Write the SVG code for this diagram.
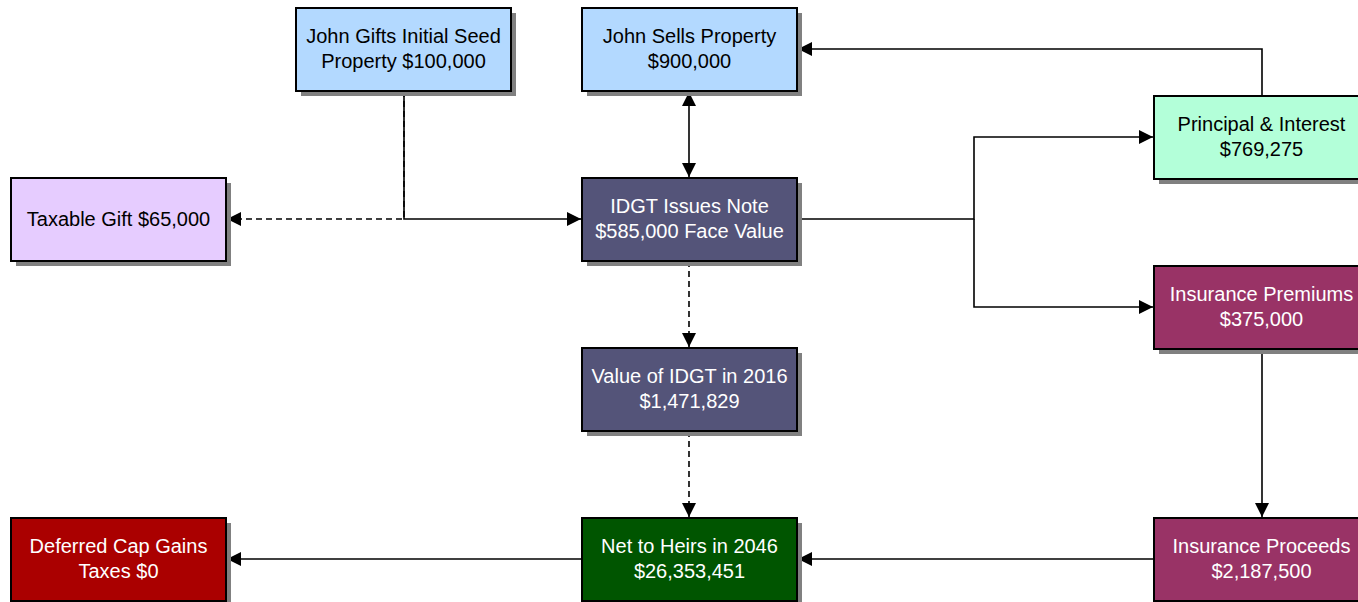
<svg xmlns="http://www.w3.org/2000/svg" width="1358" height="602" viewBox="0 0 1358 602">
<style>
.sh{fill:#808080}
.bx{stroke:#000;stroke-width:2}
.t{font-family:"Liberation Sans",Arial,sans-serif;font-size:20px;text-anchor:middle}
.dk{fill:#fff}
.lt{fill:#000}
.c{fill:none;stroke:#000;stroke-width:1.6}
.d{stroke-dasharray:6,4}
</style>
<defs>
<marker id="ah" viewBox="0 0 14 14" refX="14" refY="7" markerWidth="14" markerHeight="14" markerUnits="userSpaceOnUse" orient="auto-start-reverse">
<path d="M0,0 L14,7 L0,14 Z" fill="#000"/>
</marker>
</defs>
<rect width="1358" height="602" fill="#fff"/>
<g id="connectors">
<path class="c d" d="M404,91 V219 H227" marker-end="url(#ah)"/>
<path class="c" d="M404,91 V219 H581" marker-end="url(#ah)"/>
<path class="c" d="M689,92 V177" marker-start="url(#ah)" marker-end="url(#ah)"/>
<path class="c" d="M797,219 H974 V137 H1153" marker-end="url(#ah)"/>
<path class="c" d="M974,219 V307 H1153" marker-end="url(#ah)"/>
<path class="c" d="M1262,96 V49 H798" marker-end="url(#ah)"/>
<path class="c d" d="M689,261 V347" marker-end="url(#ah)"/>
<path class="c d" d="M689,431 V517" marker-end="url(#ah)"/>
<path class="c" d="M1262,349 V517" marker-end="url(#ah)"/>
<path class="c" d="M1154,559 H798" marker-end="url(#ah)"/>
<path class="c" d="M582,559 H227" marker-end="url(#ah)"/>
</g>
<g id="n-gift">
<rect class="sh" x="301" y="13" width="215" height="83"/>
<rect class="bx" x="296" y="8" width="215" height="83" fill="#B3D9FF"/>
<text class="t lt" x="403.5" y="43">John Gifts Initial Seed</text>
<text class="t lt" x="403.5" y="68">Property $100,000</text>
</g>
<g id="n-sells">
<rect class="sh" x="587" y="13" width="215" height="83"/>
<rect class="bx" x="582" y="8" width="215" height="83" fill="#B3D9FF"/>
<text class="t lt" x="689.5" y="43">John Sells Property</text>
<text class="t lt" x="689.5" y="68">$900,000</text>
</g>
<g id="n-principal">
<rect class="sh" x="1159" y="101" width="215" height="83"/>
<rect class="bx" x="1154" y="96" width="215" height="83" fill="#B3FFD9"/>
<text class="t lt" x="1261.5" y="131">Principal &amp; Interest</text>
<text class="t lt" x="1261.5" y="156">$769,275</text>
</g>
<g id="n-taxable">
<rect class="sh" x="16" y="183" width="215" height="83"/>
<rect class="bx" x="11" y="178" width="215" height="83" fill="#E6CCFF"/>
<text class="t lt" x="118.5" y="226">Taxable Gift $65,000</text>
</g>
<g id="n-idgt">
<rect class="sh" x="587" y="183" width="215" height="83"/>
<rect class="bx" x="582" y="178" width="215" height="83" fill="#545479"/>
<text class="t dk" x="689.5" y="213">IDGT Issues Note</text>
<text class="t dk" x="689.5" y="238">$585,000 Face Value</text>
</g>
<g id="n-premiums">
<rect class="sh" x="1159" y="271" width="215" height="83"/>
<rect class="bx" x="1154" y="266" width="215" height="83" fill="#993366"/>
<text class="t dk" x="1261.5" y="301">Insurance Premiums</text>
<text class="t dk" x="1261.5" y="326">$375,000</text>
</g>
<g id="n-value">
<rect class="sh" x="587" y="353" width="215" height="83"/>
<rect class="bx" x="582" y="348" width="215" height="83" fill="#545479"/>
<text class="t dk" x="689.5" y="383">Value of IDGT in 2016</text>
<text class="t dk" x="689.5" y="408">$1,471,829</text>
</g>
<g id="n-deferred">
<rect class="sh" x="16" y="523" width="215" height="83"/>
<rect class="bx" x="11" y="518" width="215" height="83" fill="#AA0000"/>
<text class="t dk" x="118.5" y="553">Deferred Cap Gains</text>
<text class="t dk" x="118.5" y="578">Taxes $0</text>
</g>
<g id="n-heirs">
<rect class="sh" x="587" y="523" width="215" height="83"/>
<rect class="bx" x="582" y="518" width="215" height="83" fill="#005500"/>
<text class="t dk" x="689.5" y="553">Net to Heirs in 2046</text>
<text class="t dk" x="689.5" y="578">$26,353,451</text>
</g>
<g id="n-proceeds">
<rect class="sh" x="1159" y="523" width="215" height="83"/>
<rect class="bx" x="1154" y="518" width="215" height="83" fill="#993366"/>
<text class="t dk" x="1261.5" y="553">Insurance Proceeds</text>
<text class="t dk" x="1261.5" y="578">$2,187,500</text>
</g>
</svg>
